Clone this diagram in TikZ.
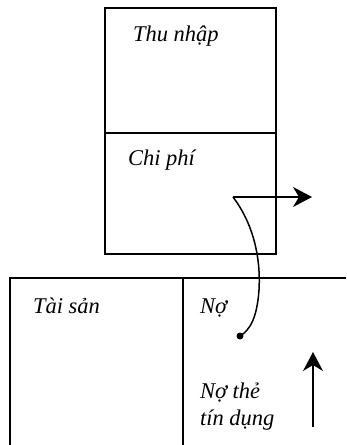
\documentclass[tikz,border=0pt]{standalone}
\usepackage{fontspec}
\setmainfont{Liberation Serif}
\usetikzlibrary{arrows.meta}
\begin{document}
\begin{tikzpicture}[x=1pt,y=-1pt,
  line width=2pt,
  lbl/.style={anchor=base west,inner sep=0pt,font=\fontsize{22.5}{27}\selectfont\itshape},
  boxpart/.style={draw,minimum width=171pt,anchor=north west,inner sep=0pt},
  conn/.style={line width=1.5pt},
  tip/.style={-{Stealth[length=19pt,width=20pt,inset=6pt]}},
  dotn/.style={circle,fill,inner sep=0pt,minimum size=7pt}]
\useasboundingbox (0,0) rectangle (346,445);
% top box
\node[boxpart,minimum height=125pt] (inc) at (104,7) {};
\node[boxpart,minimum height=121pt] (exp) at (104,132) {};
\node[lbl] (tinc) at (132,41) {Thu nhập};
\node[lbl] (texp) at (127,165) {Chi phí};
% balance sheet
\draw (10,445) -- (10,278) -- (346,278);
\draw (183,278) -- (183,445);
\node[lbl] (tas) at (32,313) {Tài sản};
\node[lbl] (tli) at (199,313) {Nợ};
\node[lbl] (tcc1) at (199,398) {Nợ thẻ};
\node[lbl] (tcc2) at (199,425) {tín dụng};
% connectors
\coordinate (fork) at (233,197);
\coordinate (out) at (312,197);
\node[dotn] (d) at (240,336) {};
\draw[conn,tip] (fork) -- (out);
\draw[conn] (fork) .. controls (252,222) and (261,255) .. (259,290) .. controls (257,318) and (250,330) .. (d.center);
\coordinate (ub) at (313,427);
\coordinate (ut) at (313,352);
\draw[conn,tip] (ub) -- (ut);
\end{tikzpicture}
\end{document}
